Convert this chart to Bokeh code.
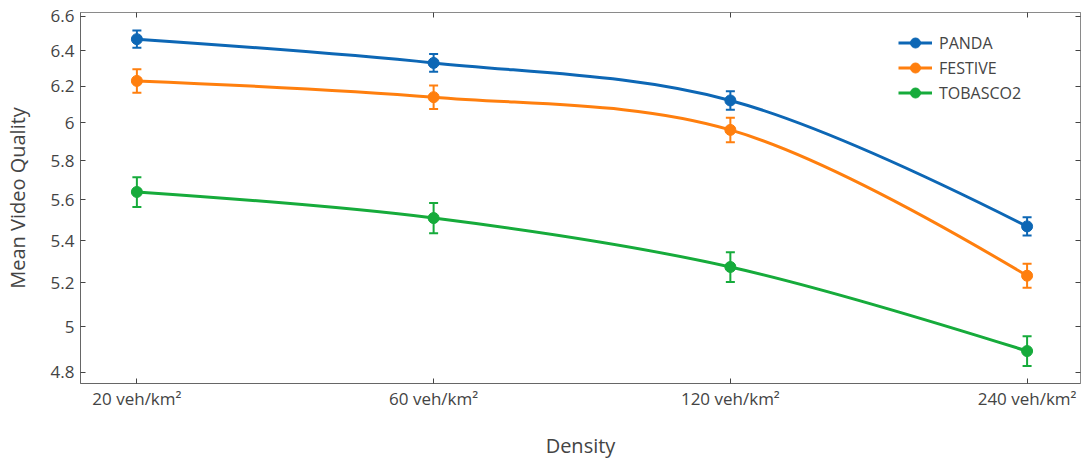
import math
from bokeh.plotting import figure
from bokeh.models import (Range1d, FixedTicker, NumeralTickFormatter, ColumnDataSource,
                          Whisker, TeeHead, Legend, LegendItem, LinearAxis, LogAxis)
from bokeh.embed import file_html
from bokeh.resources import INLINE

categories = ["20 veh/km²", "60 veh/km²", "120 veh/km²", "240 veh/km²"]
series_names = ["PANDA", "FESTIVE", "TOBASCO2"]
panda_mean = [6.466, 6.33, 6.121, 5.469]
panda_err = [0.05, 0.05, 0.05, 0.045]
festive_mean = [6.229, 6.139, 5.962, 5.233]
festive_err = [0.065, 0.065, 0.065, 0.056]
tobasco_mean = [5.640, 5.510, 5.274, 4.892]
tobasco_err = [0.075, 0.074, 0.07, 0.065]
y_ticks = [4.8, 5.0, 5.2, 5.4, 5.6, 5.8, 6.0, 6.2, 6.4, 6.6]
colors = ["#0d67b5", "#ff7f0e", "#16ab3b"]

W, H = 1085, 462
ML, MR, MT, MB = 79, 5, 12, 79
X0, X1 = -0.19, 3.18
Y0, Y1 = 4.752, 6.622

FONT = "Open Sans"
TXT = "#444444"

p = figure(width=W, height=H, output_backend="svg", toolbar_location=None,
           y_axis_type="log", x_range=Range1d(X0, X1), y_range=Range1d(Y0, Y1),
           min_border_left=ML, min_border_right=MR, min_border_top=MT, min_border_bottom=MB,
           background_fill_color="white", border_fill_color="white")
p.grid.visible = False
p.outline_line_color = "#8a8a8a"
p.outline_line_width = 1

# pixel scales for spline control points
fw = W - ML - MR
fh = H - MT - MB
sx = fw / (X1 - X0)
sy = fh / (math.log(Y1) - math.log(Y0))


def ctrl(p0, p1, p2, s=1.0):
    d1x, d1y = p0[0] - p1[0], p0[1] - p1[1]
    d2x, d2y = p2[0] - p1[0], p2[1] - p1[1]
    d1a = (d1x * d1x + d1y * d1y) ** 0.25
    d2a = (d2x * d2x + d2y * d2y) ** 0.25
    numx = (d2a * d2a * d1x - d1a * d1a * d2x) * s
    numy = (d2a * d2a * d1y - d1a * d1a * d2y) * s
    den1 = 3 * d2a * (d1a + d2a)
    den2 = 3 * d1a * (d1a + d2a)
    return ((p1[0] + numx / den1, p1[1] + numy / den1),
            (p1[0] - numx / den2, p1[1] - numy / den2))


def to_data(pt):
    return pt[0] / sx, math.exp(pt[1] / sy)


legend_items = []
all_means = [panda_mean, festive_mean, tobasco_mean]
all_errs = [panda_err, festive_err, tobasco_err]
for name, mean, err, col in zip(series_names, all_means, all_errs, colors):
    xs = list(range(len(categories)))
    pts = [(x * sx, math.log(y) * sy) for x, y in zip(xs, mean)]
    tans = [ctrl(pts[i - 1], pts[i], pts[i + 1]) for i in range(1, len(pts) - 1)]
    c = to_data(tans[0][0])
    p.quadratic(x0=[xs[0]], y0=[mean[0]], x1=[xs[1]], y1=[mean[1]], cx=[c[0]], cy=[c[1]],
                line_color=col, line_width=3)
    bez = None
    for i in range(1, len(pts) - 2):
        ca = to_data(tans[i - 1][1])
        cb = to_data(tans[i][0])
        bez = p.bezier(x0=[xs[i]], y0=[mean[i]], x1=[xs[i + 1]], y1=[mean[i + 1]],
                       cx0=[ca[0]], cy0=[ca[1]], cx1=[cb[0]], cy1=[cb[1]],
                       line_color=col, line_width=3)
    c = to_data(tans[-1][1])
    n = len(pts)
    p.quadratic(x0=[xs[n - 2]], y0=[mean[n - 2]], x1=[xs[n - 1]], y1=[mean[n - 1]],
                cx=[c[0]], cy=[c[1]], line_color=col, line_width=3)

    src = ColumnDataSource(dict(x=xs, y=mean,
                                lo=[m - e for m, e in zip(mean, err)],
                                hi=[m + e for m, e in zip(mean, err)]))
    wh = Whisker(source=src, base="x", upper="hi", lower="lo", dimension="height",
                 line_color=col, line_width=2,
                 upper_head=TeeHead(size=9, line_color=col, line_width=2),
                 lower_head=TeeHead(size=9, line_color=col, line_width=2))
    p.add_layout(wh)
    sc = p.scatter("x", "y", source=src, size=11, fill_color=col, line_color=col)
    legend_items.append(LegendItem(label=name, renderers=[bez, sc]))

legend = Legend(items=legend_items, location=(818, 278), orientation="vertical",
                label_text_font=FONT, label_text_font_size="16px", label_text_color=TXT,
                glyph_width=34, glyph_height=25, label_height=25, spacing=0,
                label_standoff=7, padding=0, margin=0,
                background_fill_alpha=0, border_line_color=None)
p.add_layout(legend, "center")

xa = p.xaxis[0]
xa.ticker = FixedTicker(ticks=[0, 1, 2, 3])
xa.major_label_overrides = {i: c for i, c in enumerate(categories)}
xa.axis_label = "Density"

ya = p.yaxis[0]
ya.ticker = FixedTicker(ticks=y_ticks)
ya.formatter = NumeralTickFormatter(format="0.[0]")
ya.axis_label = "Mean Video Quality"

for ax in (xa, ya):
    ax.axis_line_color = "#666666"
    ax.major_tick_line_color = "#444444"
    ax.major_tick_in = 5
    ax.major_tick_out = 0
    ax.minor_tick_line_color = None
    ax.major_label_text_font = FONT
    ax.major_label_text_font_size = "17px"
    ax.major_label_text_color = TXT
    ax.axis_label_text_font = FONT
    ax.axis_label_text_font_size = "20px"
    ax.axis_label_text_font_style = "normal"
    ax.axis_label_text_color = TXT
    ax.axis_label_text_line_height = 1.0
    ax.major_label_text_line_height = 1.0
xa.major_label_standoff = 3
xa.axis_label_standoff = 19
ya.major_label_standoff = 6
ya.axis_label_standoff = 17

# mirrored ticks on top and right (no labels)
top = LinearAxis(ticker=FixedTicker(ticks=[0, 1, 2, 3]), major_label_text_font_size="1px",
                 major_label_text_color=None, major_label_standoff=0,
                 major_tick_in=5, major_tick_out=0,
                 minor_tick_line_color=None, axis_line_color="#8a8a8a",
                 major_tick_line_color="#444444")
right = LogAxis(ticker=FixedTicker(ticks=y_ticks), major_label_text_font_size="1px",
                major_label_text_color=None, major_label_standoff=0,
                major_tick_in=5, major_tick_out=0,
                minor_tick_line_color=None, axis_line_color="#8a8a8a",
                major_tick_line_color="#444444")
p.add_layout(top, "above")
p.add_layout(right, "right")

open("out.html", "w").write(file_html(p, INLINE))
